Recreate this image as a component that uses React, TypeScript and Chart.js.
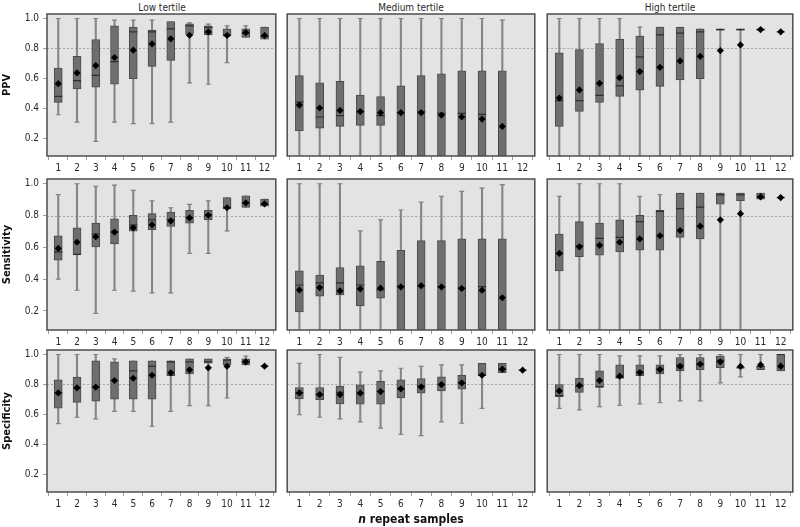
import React, { useEffect, useRef } from "react";
import { Chart, registerables } from "chart.js";

Chart.register(...registerables);

// Each entry: [lower whisker, Q1, median, Q3, upper whisker, mean]
type Box = [number, number, number, number, number, number] | null;

const repeatSamples = [1, 2, 3, 4, 5, 6, 7, 8, 9, 10, 11, 12];
const yTickValues = [0.2, 0.4, 0.6, 0.8, 1.0];
const referenceValue = 0.8;
const rowTitles = ["PPV", "Sensitivity", "Specificity"];
const colTitles = ["Low tertile", "Medium tertile", "High tertile"];
const xAxisTitleItalic = "n";
const xAxisTitleRest = " repeat samples";

const ppvLow: Box[] = [
  [0.356, 0.439, 0.479, 0.669, 1.0, 0.564],
  [0.307, 0.528, 0.584, 0.747, 1.0, 0.636],
  [0.178, 0.54, 0.62, 0.859, 1.0, 0.685],
  [0.307, 0.56, 0.712, 0.951, 0.989, 0.739],
  [0.296, 0.598, 0.91, 0.942, 0.989, 0.788],
  [0.296, 0.68, 0.91, 0.922, 0.989, 0.83],
  [0.307, 0.72, 0.93, 0.98, 0.98, 0.864],
  [0.569, 0.893, 0.951, 0.964, 0.971, 0.888],
  [0.56, 0.89, 0.94, 0.951, 0.962, 0.91],
  [0.705, 0.882, 0.89, 0.931, 0.951, 0.886],
  [0.873, 0.873, 0.9, 0.931, 0.951, 0.906],
  [0.861, 0.861, 0.88, 0.942, 0.942, 0.886],
];
const ppvMedium: Box[] = [
  [0, 0.247, 0.441, 0.618, 1.0, 0.421],
  [0, 0.267, 0.341, 0.569, 1.0, 0.401],
  [0, 0.278, 0.35, 0.58, 1.0, 0.385],
  [0, 0.285, 0.377, 0.488, 1.0, 0.377],
  [0, 0.285, 0.35, 0.477, 1.0, 0.37],
  [0, 0, 0.37, 0.549, 1.0, 0.37],
  [0, 0, 0.377, 0.618, 1.0, 0.37],
  [0, 0, 0.365, 0.629, 1.0, 0.354],
  [0, 0, 0.365, 0.649, 1.0, 0.341],
  [0, 0, 0.359, 0.649, 1.0, 0.327],
  [0, 0, 0, 0.649, 0.989, 0.278],
  null,
];
const ppvHigh: Box[] = [
  [0, 0.278, 0.45, 0.77, 1.0, 0.468],
  [0, 0.379, 0.45, 0.792, 1.0, 0.522],
  [0, 0.439, 0.486, 0.832, 1.0, 0.566],
  [0, 0.479, 0.549, 0.861, 1.0, 0.604],
  [0, 0.52, 0.743, 0.882, 0.942, 0.645],
  [0, 0.546, 0.89, 0.942, 0.942, 0.673],
  [0, 0.589, 0.902, 0.942, 0.942, 0.716],
  [0, 0.598, 0.911, 0.931, 0.931, 0.747],
  [0, 0.922, 0.926, 0.931, 0.931, 0.785],
  [0, 0.922, 0.926, 0.931, 0.931, 0.823],
  [0.922, 0.922, 0.926, 0.931, 0.931, 0.926],
  [0.911, 0.911, 0.911, 0.911, 0.911, 0.911],
];
const sensLow: Box[] = [
  [0.4, 0.52, 0.572, 0.673, 0.932, 0.593],
  [0.33, 0.553, 0.556, 0.723, 1.0, 0.632],
  [0.184, 0.603, 0.684, 0.752, 0.983, 0.667],
  [0.33, 0.622, 0.696, 0.779, 0.992, 0.696],
  [0.324, 0.702, 0.74, 0.802, 0.959, 0.723],
  [0.314, 0.711, 0.773, 0.812, 0.893, 0.742],
  [0.314, 0.731, 0.775, 0.822, 0.849, 0.766],
  [0.562, 0.752, 0.789, 0.833, 0.87, 0.785],
  [0.562, 0.773, 0.804, 0.833, 0.893, 0.802],
  [0.704, 0.841, 0.85, 0.913, 0.913, 0.849],
  [0.851, 0.851, 0.88, 0.924, 0.924, 0.88],
  [0.859, 0.859, 0.87, 0.903, 0.903, 0.874],
];
const sensMedium: Box[] = [
  [0, 0.194, 0.363, 0.452, 1.0, 0.332],
  [0, 0.293, 0.376, 0.425, 1.0, 0.347],
  [0, 0.301, 0.376, 0.473, 1.0, 0.326],
  [0, 0.231, 0.363, 0.483, 0.704, 0.339],
  [0, 0.281, 0.332, 0.512, 0.773, 0.343],
  [0, 0, 0.355, 0.582, 0.835, 0.351],
  [0, 0, 0.359, 0.642, 0.884, 0.359],
  [0, 0, 0.351, 0.642, 0.921, 0.351],
  [0, 0, 0.343, 0.653, 0.952, 0.341],
  [0, 0, 0.353, 0.653, 0.973, 0.33],
  [0, 0, 0, 0.653, 0.994, 0.283],
  null,
];
const sensHigh: Box[] = [
  [0, 0.452, 0.562, 0.684, 0.921, 0.562],
  [0, 0.541, 0.611, 0.762, 1.0, 0.603],
  [0, 0.551, 0.657, 0.752, 1.0, 0.613],
  [0, 0.572, 0.663, 0.773, 1.0, 0.632],
  [0, 0.582, 0.762, 0.802, 0.921, 0.653],
  [0, 0.582, 0.826, 0.833, 0.932, 0.673],
  [0, 0.663, 0.843, 0.942, 0.942, 0.706],
  [0, 0.653, 0.853, 0.942, 0.942, 0.733],
  [0, 0.872, 0.93, 0.942, 0.942, 0.773],
  [0, 0.893, 0.93, 0.942, 0.942, 0.812],
  [0.903, 0.903, 0.917, 0.942, 0.942, 0.917],
  [0.913, 0.913, 0.913, 0.913, 0.913, 0.913],
];
const specLow: Box[] = [
  [0.537, 0.64, 0.743, 0.83, 1.0, 0.743],
  [0.58, 0.68, 0.777, 0.848, 1.0, 0.777],
  [0.569, 0.687, 0.783, 0.958, 1.0, 0.781],
  [0.62, 0.701, 0.826, 0.951, 0.971, 0.826],
  [0.62, 0.701, 0.89, 0.958, 0.958, 0.841],
  [0.52, 0.701, 0.922, 0.958, 0.958, 0.861],
  [0.62, 0.859, 0.951, 0.958, 0.958, 0.877],
  [0.658, 0.87, 0.951, 0.971, 0.971, 0.897],
  [0.658, 0.942, 0.95, 0.971, 0.971, 0.911],
  [0.709, 0.931, 0.962, 0.971, 0.98, 0.922],
  [0.931, 0.931, 0.95, 0.971, 0.989, 0.951],
  [0.922, 0.922, 0.922, 0.922, 0.922, 0.922],
];
const specMedium: Box[] = [
  [0.598, 0.703, 0.743, 0.779, 0.94, 0.743],
  [0.58, 0.698, 0.732, 0.779, 1.0, 0.732],
  [0.569, 0.669, 0.747, 0.788, 0.98, 0.732],
  [0.549, 0.667, 0.741, 0.797, 0.882, 0.741],
  [0.508, 0.667, 0.754, 0.821, 0.89, 0.752],
  [0.466, 0.709, 0.77, 0.83, 0.908, 0.77],
  [0.457, 0.741, 0.79, 0.839, 0.92, 0.783],
  [0.549, 0.756, 0.801, 0.85, 0.931, 0.799],
  [0.54, 0.768, 0.812, 0.861, 0.931, 0.81],
  [0.64, 0.859, 0.861, 0.94, 0.94, 0.861],
  [0.879, 0.879, 0.9, 0.94, 0.94, 0.902],
  [0.895, 0.895, 0.895, 0.895, 0.895, 0.895],
];
const specHigh: Box[] = [
  [0.64, 0.718, 0.725, 0.799, 1.0, 0.756],
  [0.629, 0.747, 0.788, 0.841, 1.0, 0.792],
  [0.651, 0.779, 0.785, 0.89, 1.0, 0.826],
  [0.66, 0.841, 0.845, 0.931, 0.991, 0.855],
  [0.669, 0.859, 0.88, 0.931, 0.991, 0.879],
  [0.678, 0.87, 0.902, 0.931, 0.991, 0.899],
  [0.689, 0.89, 0.93, 0.98, 1.0, 0.92],
  [0.689, 0.899, 0.935, 0.98, 1.0, 0.935],
  [0.81, 0.911, 0.96, 0.991, 1.0, 0.951],
  [0.85, 0.911, 0.911, 0.912, 1.0, 0.92],
  [0.899, 0.899, 0.92, 0.92, 1.0, 0.931],
  [0.89, 0.89, 1.0, 1.0, 1.0, 0.922],
];

const panels: Box[][][] = [
  [ppvLow, ppvMedium, ppvHigh],
  [sensLow, sensMedium, sensHigh],
  [specLow, specMedium, specHigh],
];

// ---- layout & style ----
const FONT = "'Liberation Sans Narrow', 'Arial Narrow', 'DejaVu Sans Condensed', 'Liberation Sans', sans-serif";
const COL_LEFT = [47, 286, 546];
const COL_RIGHT = [277, 536, 794];
const ROW_TOP = [14, 179, 350];
const ROW_BOTTOM = [156, 330, 492];
const Y_MIN = 0.08;
const Y_MAX = 1.03;
const X_MIN = 0.4;
const X_MAX = 12.6;
const PANEL_BG = "#e3e3e3";
const BOX_FILL = "#6e6e6e";
const BOX_EDGE = "#4a4a4a";
const WHISKER = "#858585";
const MEDIAN = "#2e2e2e";
const TEXT = "#2a2a2a";

const panelDecor = {
  id: "panelDecor",
  beforeDraw(chart: any) {
    const { ctx, chartArea: a } = chart;
    ctx.save();
    ctx.fillStyle = PANEL_BG;
    ctx.fillRect(a.left, a.top, a.width, a.height);
    ctx.restore();
  },
  beforeDatasetsDraw(chart: any) {
    const { ctx, chartArea: a } = chart;
    const y = chart.scales.y.getPixelForValue(referenceValue);
    ctx.save();
    ctx.strokeStyle = "#a5a5a5";
    ctx.lineWidth = 1;
    ctx.setLineDash([2, 2]);
    ctx.beginPath();
    ctx.moveTo(a.left, Math.round(y) + 0.5);
    ctx.lineTo(a.right, Math.round(y) + 0.5);
    ctx.stroke();
    ctx.restore();
  },
  afterDraw(chart: any) {
    const { ctx, chartArea: a } = chart;
    ctx.save();
    ctx.strokeStyle = "#4d4d4d";
    ctx.lineWidth = 1.5;
    ctx.strokeRect(a.left, a.top, a.width, a.height);
    ctx.restore();
  },
};

function Panel({ boxes, row, col }: { boxes: Box[]; row: number; col: number }) {
  const ref = useRef<HTMLCanvasElement | null>(null);
  const L = col === 0 ? 47 : 4;
  const R = 4;
  const T = 12;
  const B = 24;
  const w = COL_RIGHT[col] - COL_LEFT[col] + L + R;
  const h = ROW_BOTTOM[row] - ROW_TOP[row] + T + B;

  useEffect(() => {
    if (!ref.current) return;
    const whiskers: any[] = [];
    const bodies: any[] = [];
    const caps: any[] = [];
    const medians: any[] = [];
    const means: any[] = [];
    boxes.forEach((b, i) => {
      if (!b) return;
      const x = repeatSamples[i];
      const [lo, q1, med, q3, hi, mean] = b;
      whiskers.push({ x, y: [lo, hi] });
      bodies.push({ x, y: [q1, q3] });
      if (lo < q1 - 0.004) caps.push({ x, y: lo });
      if (hi > q3 + 0.004) caps.push({ x, y: hi });
      medians.push({ x, y: med });
      means.push({ x, y: mean });
    });

    const tickFont = { family: FONT, size: 10 };
    const chart = new Chart(ref.current, {
      type: "bar",
      data: {
        datasets: [
          {
            type: "bar",
            data: whiskers,
            backgroundColor: WHISKER,
            borderWidth: 0,
            barThickness: 1.4,
            grouped: false,
            order: 5,
            clip: 0,
          } as any,
          {
            type: "scatter",
            data: caps,
            pointStyle: "line",
            pointRadius: 2.5,
            borderColor: WHISKER,
            borderWidth: 1.2,
            order: 4,
            clip: 0,
          } as any,
          {
            type: "bar",
            data: bodies,
            backgroundColor: BOX_FILL,
            borderColor: BOX_EDGE,
            borderWidth: 1,
            borderSkipped: false,
            barThickness: 8,
            grouped: false,
            order: 3,
            clip: 0,
          } as any,
          {
            type: "scatter",
            data: medians,
            pointStyle: "line",
            pointRadius: 4,
            borderColor: MEDIAN,
            borderWidth: 1.2,
            order: 2,
            clip: 0,
          } as any,
          {
            type: "scatter",
            data: means,
            pointStyle: "rectRot",
            pointRadius: 3.6,
            backgroundColor: "#000000",
            borderColor: "#000000",
            borderWidth: 0,
            order: 1,
            clip: 0,
          } as any,
        ],
      },
      options: {
        responsive: false,
        animation: false,
        devicePixelRatio: 1,
        events: [],
        layout: { padding: { top: T, right: R, left: 0, bottom: 0 } },
        plugins: { legend: { display: false }, tooltip: { enabled: false }, title: { display: false } },
        scales: {
          x: {
            type: "linear",
            min: X_MIN,
            max: X_MAX,
            offset: false,
            afterBuildTicks: (axis: any) => {
              axis.ticks = repeatSamples.map((v) => ({ value: v }));
            },
            afterFit: (axis: any) => {
              axis.height = B;
            },
            ticks: {
              font: tickFont,
              color: TEXT,
              padding: 2,
              autoSkip: false,
              maxRotation: 0,
              callback: (v: any) => String(v),
            },
            grid: { display: true, drawOnChartArea: false, drawTicks: true, tickLength: 4, color: "#a0a0a0" },
            border: { display: false },
          },
          y: {
            type: "linear",
            min: Y_MIN,
            max: Y_MAX,
            afterBuildTicks: (axis: any) => {
              axis.ticks = yTickValues.map((v) => ({ value: v }));
            },
            afterFit: (axis: any) => {
              axis.width = L;
            },
            ticks: {
              display: col === 0,
              font: tickFont,
              color: TEXT,
              padding: 4,
              callback: (v: any) => Number(v).toFixed(1),
            },
            grid: { display: col === 0, drawOnChartArea: false, drawTicks: true, tickLength: 4, color: "#a0a0a0" },
            border: { display: false },
            title: {
              display: col === 0,
              text: rowTitles[row],
              color: "#111",
              font: { family: FONT, size: 11, weight: "bold" },
              padding: { top: 1, bottom: 0 },
            },
          },
        },
      } as any,
      plugins: [panelDecor as any],
    });
    return () => chart.destroy();
  }, []);

  return (
    <canvas
      ref={ref}
      width={w}
      height={h}
      style={{ position: "absolute", left: COL_LEFT[col] - L, top: ROW_TOP[row] - T, width: w, height: h }}
    />
  );
}

export default function App() {
  return (
    <div
      style={{
        position: "absolute",
        left: 0,
        top: 0,
        width: 800,
        height: 527,
        background: "#ffffff",
        overflow: "hidden",
        fontFamily: FONT,
      }}
    >
      {colTitles.map((t, c) => (
        <div
          key={t}
          style={{
            position: "absolute",
            left: COL_LEFT[c],
            width: COL_RIGHT[c] - COL_LEFT[c],
            top: 0,
            textAlign: "center",
            fontSize: 10,
            lineHeight: "15px",
            color: TEXT,
          }}
        >
          {t}
        </div>
      ))}
      {panels.map((rowPanels, r) =>
        rowPanels.map((boxes, c) => <Panel key={`${r}-${c}`} boxes={boxes} row={r} col={c} />)
      )}
      <div
        style={{
          position: "absolute",
          left: COL_LEFT[1],
          width: COL_RIGHT[1] - COL_LEFT[1],
          top: 511,
          textAlign: "center",
          fontSize: 12,
          lineHeight: "16px",
          fontWeight: "bold",
          color: "#111",
        }}
      >
        <i>{xAxisTitleItalic}</i>
        {xAxisTitleRest}
      </div>
    </div>
  );
}
